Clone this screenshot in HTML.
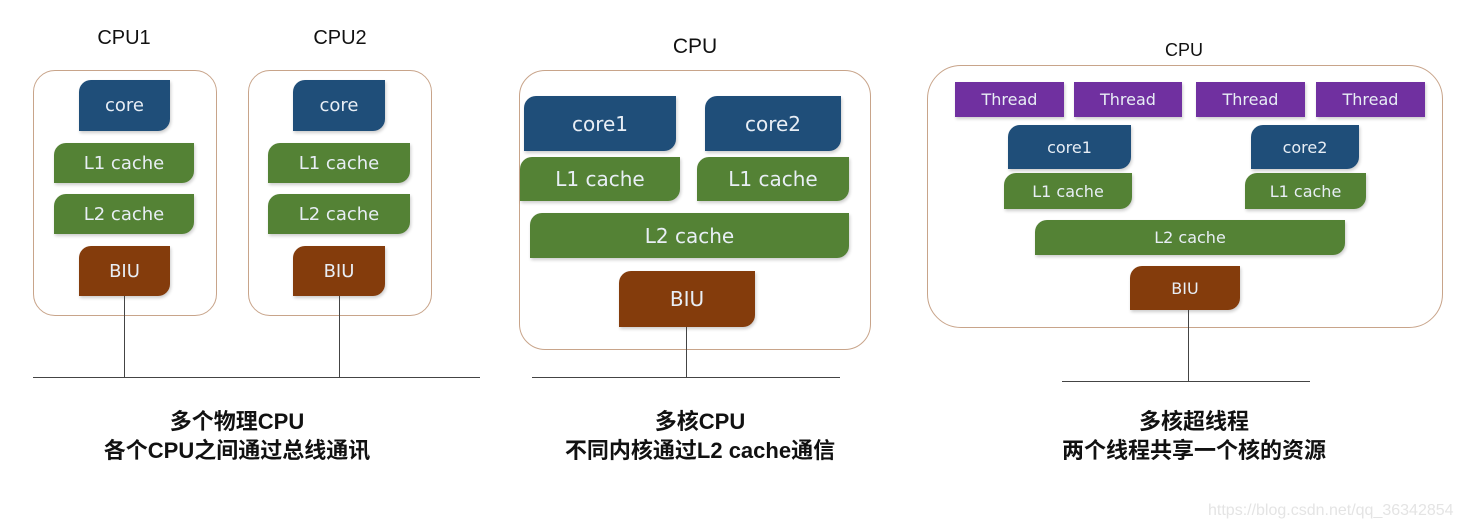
<!DOCTYPE html>
<html><head><meta charset="utf-8"><style>
body{margin:0;width:1461px;height:531px;background:#fff;position:relative;overflow:hidden;font-family:"Liberation Sans","Noto Sans CJK SC",sans-serif}
div{position:absolute;box-sizing:border-box}
.box{border:1.5px solid #c8a48a;border-radius:22px;background:#fff}
.b{display:flex;align-items:center;justify-content:center;color:#e8eef5;font-family:"DejaVu Sans","Liberation Sans",sans-serif;border-radius:12px 0 12px 0;box-shadow:1px 2px 3px rgba(0,0,0,.2)}
.core{background:#1f4e79}.g{background:#548235}.biu{background:#843c0c}.th{background:#7030a0;border-radius:0}
.v{width:1.3px;background:#444}.h{height:1.3px;background:#444}
.t{color:#111;text-align:center;white-space:nowrap}
.cap{font-weight:bold;font-size:22px;color:#111;text-align:center;line-height:29px;white-space:nowrap}
</style></head><body>
<div class="t" style="left:74px;top:27px;width:100px;font-size:20px">CPU1</div>
<div class="t" style="left:290px;top:27px;width:100px;font-size:20px">CPU2</div>
<div class="box" style="left:33px;top:70px;width:184px;height:246px"></div>
<div class="box" style="left:248px;top:70px;width:184px;height:246px"></div>
<div class="b core" style="left:79px;top:80px;width:91px;height:51px;font-size:18px">core</div>
<div class="b g" style="left:54px;top:143px;width:140px;height:40px;font-size:18px">L1 cache</div>
<div class="b g" style="left:54px;top:194px;width:140px;height:40px;font-size:18px">L2 cache</div>
<div class="b biu" style="left:79px;top:246px;width:91px;height:50px;font-size:18px">BIU</div>
<div class="b core" style="left:293px;top:80px;width:92px;height:51px;font-size:18px">core</div>
<div class="b g" style="left:268px;top:143px;width:142px;height:40px;font-size:18px">L1 cache</div>
<div class="b g" style="left:268px;top:194px;width:142px;height:40px;font-size:18px">L2 cache</div>
<div class="b biu" style="left:293px;top:246px;width:92px;height:50px;font-size:18px">BIU</div>
<div class="v" style="left:124px;top:296px;height:81px"></div>
<div class="v" style="left:339px;top:296px;height:81px"></div>
<div class="h" style="left:33px;top:377px;width:447px"></div>

<div class="t" style="left:645px;top:35px;width:100px;font-size:21px">CPU</div>
<div class="box" style="left:519px;top:70px;width:352px;height:280px;border-radius:26px"></div>
<div class="b core" style="left:524px;top:96px;width:152px;height:55px;font-size:20px">core1</div>
<div class="b core" style="left:705px;top:96px;width:136px;height:55px;font-size:20px">core2</div>
<div class="b g" style="left:520px;top:157px;width:160px;height:44px;font-size:20px">L1 cache</div>
<div class="b g" style="left:697px;top:157px;width:152px;height:44px;font-size:20px">L1 cache</div>
<div class="b g" style="left:530px;top:213px;width:319px;height:45px;font-size:20px">L2 cache</div>
<div class="b biu" style="left:619px;top:271px;width:136px;height:56px;font-size:20px">BIU</div>
<div class="v" style="left:686px;top:327px;height:50px"></div>
<div class="h" style="left:532px;top:377px;width:308px"></div>

<div class="t" style="left:1134px;top:40px;width:100px;font-size:18px">CPU</div>
<div class="box" style="left:927px;top:65px;width:516px;height:263px;border-radius:34px"></div>
<div class="b th" style="left:955px;top:82px;width:109px;height:35px;font-size:16px">Thread</div>
<div class="b th" style="left:1074px;top:82px;width:108px;height:35px;font-size:16px">Thread</div>
<div class="b th" style="left:1196px;top:82px;width:109px;height:35px;font-size:16px">Thread</div>
<div class="b th" style="left:1316px;top:82px;width:109px;height:35px;font-size:16px">Thread</div>
<div class="b core" style="left:1008px;top:125px;width:123px;height:44px;font-size:16px">core1</div>
<div class="b core" style="left:1251px;top:125px;width:108px;height:44px;font-size:16px">core2</div>
<div class="b g" style="left:1004px;top:173px;width:128px;height:36px;font-size:16px">L1 cache</div>
<div class="b g" style="left:1245px;top:173px;width:121px;height:36px;font-size:16px">L1 cache</div>
<div class="b g" style="left:1035px;top:220px;width:310px;height:35px;font-size:16px">L2 cache</div>
<div class="b biu" style="left:1130px;top:266px;width:110px;height:44px;font-size:16px">BIU</div>
<div class="v" style="left:1188px;top:310px;height:71px"></div>
<div class="h" style="left:1062px;top:381px;width:248px"></div>

<div class="cap" style="left:87px;top:407px;width:300px">多个物理CPU<br>各个CPU之间通过总线通讯</div>
<div class="cap" style="left:550px;top:407px;width:300px">多核CPU<br>不同内核通过L2 cache通信</div>
<div class="cap" style="left:1044px;top:407px;width:300px">多核超线程<br>两个线程共享一个核的资源</div>
<div style="left:1208px;top:502px;font-size:16px;color:#e4e4e4;white-space:nowrap">https://blog.csdn.net/qq_36342854</div>
</body></html>
